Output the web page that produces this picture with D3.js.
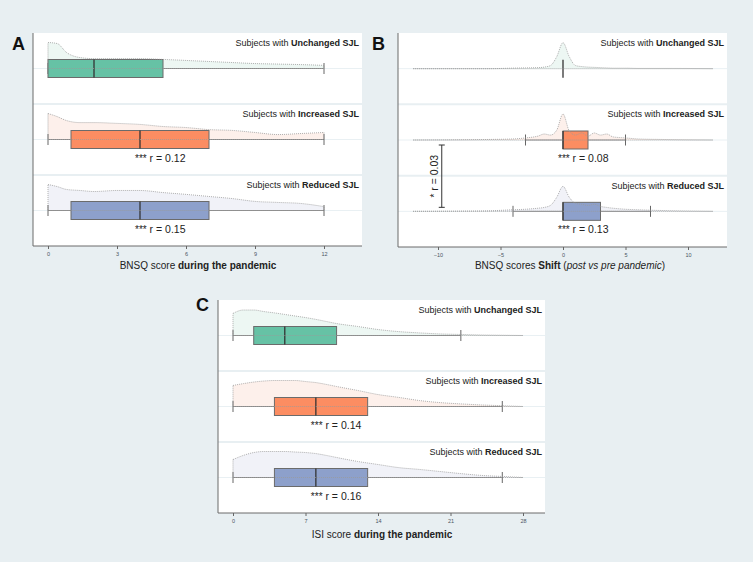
<!DOCTYPE html>
<html>
<head>
<meta charset="utf-8">
<script src="https://cdn.jsdelivr.net/npm/d3@7"></script>
<style>
  body { margin: 0; background: #e8eff2; }
  svg { display: block; font-family: "Liberation Sans", Arial, sans-serif; }
  .tick text { font-size: 5.5px; fill: #4a5562; }
  .tick line { stroke: #666; }
</style>
</head>
<body>
<div id="chart"></div>
<script>
// groups, top to bottom in every panel
var groups = ['Unchanged', 'Increased', 'Reduced'];

// box stats per group: [min, q1, median, q3, max]
var boxA = [[0, 0, 2, 5, 12], [0, 1, 4, 7, 12], [0, 1, 4, 7, 12]];
var boxB = [[0, 0, 0, 0, 0], [-3, 0, 0, 2, 5], [-4, 0, 0, 3, 7]];
var boxC = [[0, 2, 5, 10, 22], [0, 4, 8, 13, 26], [0, 4, 8, 13, 26]];

// effect sizes printed under the boxes
var rA = ['', '0.12', '0.15'];
var rB = ['', '0.08', '0.13'];
var rC = ['', '0.14', '0.16'];
var rBetweenB = '0.03';

var ticksA = [0, 3, 6, 9, 12];
var ticksB = [-10, -5, 0, 5, 10];
var ticksC = [0, 7, 14, 21, 28];

// density curves (relative, peak = 100)
var densAx = [0, 0.4, 0.8, 1.4, 2, 3, 4, 5, 6, 7, 8, 9, 10, 11, 12];
var densA = [
    [100, 96, 62, 42, 38, 38, 38, 35, 31, 27, 23, 19, 17, 15, 12],
    [100, 88, 73, 65, 65, 62, 58, 50, 46, 38, 35, 27, 19, 23, 27],
    [100, 92, 81, 77, 73, 77, 77, 69, 62, 54, 46, 35, 31, 27, 15]
];

var densBx = [-12, -8, -6, -4, -3, -2, -1.5, -1, -0.5, 0, 0.5, 1, 1.5, 2, 2.5, 3, 3.5, 4, 5, 6, 8, 12];
var densB = [
    [0, 0, 0, 2, 3, 4, 6, 12, 46, 100, 46, 12, 8, 6, 5, 4, 3, 2, 2, 1, 1, 0],
    [0, 1, 2, 4, 8, 15, 23, 19, 38, 100, 35, 19, 27, 15, 27, 19, 23, 12, 8, 4, 2, 0],
    [0, 1, 2, 6, 8, 12, 15, 23, 54, 96, 54, 31, 27, 23, 27, 19, 15, 12, 8, 6, 3, 0]
];

var densCx = [0, 1, 2, 3, 4, 5, 6, 7, 8, 9, 10, 12, 14, 16, 18, 20, 22, 24, 26, 28];
var densC = [
    [85, 98, 98, 92, 87, 81, 75, 69, 62, 54, 46, 35, 23, 15, 10, 6, 4, 2, 1, 0],
    [81, 88, 94, 98, 100, 100, 100, 96, 92, 85, 77, 62, 46, 35, 23, 15, 10, 6, 3, 0],
    [69, 85, 96, 100, 100, 100, 98, 96, 92, 85, 77, 62, 50, 38, 31, 23, 15, 8, 4, 0]
];

var boxColors = ['#66c2a5', '#fc8d62', '#8da0cb'];
var densColors = ['#edf7f3', '#fdf0eb', '#f1f2f8'];
var bg = '#e8eff2';

var svg = d3.select('#chart').append('svg')
    .attr('width', 753)
    .attr('height', 562);

///////////////////////////////////////////////////////////////
// panels
///////////////////////////////////////////////////////////////

var panels = [
    { letter: 'A', lx: 12, ly: 50, left: 33, right: 362, top: 33, bottom: 246,
      domain: [0, 12], range: [48, 324], ticks: ticksA, box: boxA, r: rA,
      dx: densAx, dens: densA, labelDy: 13,
      title: [['BNSQ score ', 'normal'], ['during the pandemic', 'bold']], tx: 198, ty: 269 },
    { letter: 'B', lx: 372, ly: 50, left: 398, right: 727, top: 33, bottom: 247,
      domain: [-12, 12], range: [413, 713], ticks: ticksB, box: boxB, r: rB,
      dx: densBx, dens: densB, labelDy: 13,
      title: [['BNSQ scores ', 'normal'], ['Shift', 'bold'], [' (', 'normal'], ['post vs pre pandemic', 'italic'], [')', 'normal']], tx: 570, ty: 269 },
    { letter: 'C', lx: 196, ly: 311, left: 218, right: 545, top: 300, bottom: 513,
      domain: [0, 28], range: [233, 523], ticks: ticksC, box: boxC, r: rC,
      dx: densCx, dens: densC, labelDy: 12.5,
      title: [['ISI score ', 'normal'], ['during the pandemic', 'bold']], tx: 382, ty: 538 }
];

panels.forEach(drawPanel);

function drawPanel(p) {
    var x = d3.scaleLinear().domain(p.domain).range(p.range);
    var y = d3.scaleBand().domain(groups).range([p.top, p.bottom]);
    var h = d3.scaleLinear().domain([0, 100]).range([0, 26]);
    var g = svg.append('g');

    g.append('rect')
        .attr('x', p.left)
        .attr('y', p.top)
        .attr('width', p.right - p.left)
        .attr('height', p.bottom - p.top)
        .attr('fill', '#fff');

    groups.forEach(function (grp, i) {
        var cy = y(grp) + y.bandwidth() / 2;
        var b = p.box[i];

        // separator between sub plots
        if (i > 0) {
            g.append('line')
                .attr('x1', p.left).attr('x2', p.right)
                .attr('y1', y(grp)).attr('y2', y(grp))
                .attr('stroke', bg).attr('stroke-width', 2);
        }

        // faint grid line
        g.append('line')
            .attr('x1', p.left).attr('x2', p.right)
            .attr('y1', cy).attr('y2', cy)
            .attr('stroke', '#e9f0f3');

        var area = d3.area()
            .x(function (d, j) { return x(p.dx[j]); })
            .y0(cy)
            .y1(function (d) { return cy - h(d); })
            .curve(d3.curveMonotoneX);

        g.append('path')
            .datum(p.dens[i])
            .attr('d', area)
            .attr('fill', densColors[i]);

        // whiskers
        if (b[0] !== b[4]) {
            g.append('line')
                .attr('x1', x(b[0])).attr('x2', x(b[4]))
                .attr('y1', cy).attr('y2', cy)
                .attr('stroke', '#8a8a8a');
            [b[0], b[4]].forEach(function (v) {
                g.append('line')
                    .attr('x1', x(v)).attr('x2', x(v))
                    .attr('y1', cy - 5.5).attr('y2', cy + 5.5)
                    .attr('stroke', '#666');
            });
        }

        // box
        if (b[3] > b[1]) {
            g.append('rect')
                .attr('x', x(b[1]))
                .attr('y', cy - 9)
                .attr('width', x(b[3]) - x(b[1]))
                .attr('height', 18)
                .attr('fill', boxColors[i])
                .attr('stroke', '#6b6b6b');
        }
        g.append('line')
            .attr('x1', x(b[2])).attr('x2', x(b[2]))
            .attr('y1', cy - 9).attr('y2', cy + 9)
            .attr('stroke', '#333')
            .attr('stroke-width', 1.3);

        // density outline, dotted, on top
        g.append('path')
            .datum(p.dens[i])
            .attr('d', area)
            .attr('fill', 'none')
            .attr('stroke', '#9a9a9a')
            .attr('stroke-width', 0.8)
            .attr('stroke-dasharray', '1,1');

        var lab = g.append('text')
            .attr('x', p.right - 3)
            .attr('y', y(grp) + p.labelDy)
            .attr('text-anchor', 'end')
            .attr('font-size', '9px')
            .attr('fill', '#222');
        lab.append('tspan').text('Subjects with ');
        lab.append('tspan').attr('font-weight', 'bold').text(grp + ' SJL');

        if (p.r[i]) {
            var rt = g.append('text')
                .attr('x', x(b[2]) - 5)
                .attr('y', cy + 22)
                .attr('fill', '#222');
            rt.append('tspan').attr('font-size', '10px').text('***');
            rt.append('tspan').attr('font-size', '10.5px').text(' r = ' + p.r[i]);
        }
    });

    // axes
    g.append('line')
        .attr('x1', p.left).attr('x2', p.left)
        .attr('y1', p.top).attr('y2', p.bottom)
        .attr('stroke', '#6b6b6b');
    g.append('line')
        .attr('x1', p.left).attr('x2', p.right)
        .attr('y1', p.bottom).attr('y2', p.bottom)
        .attr('stroke', '#6b6b6b');

    var xAxis = d3.axisBottom(x)
        .tickValues(p.ticks)
        .tickSize(3)
        .tickFormat(d3.format('d'));
    var ax = g.append('g')
        .attr('transform', 'translate(0,' + p.bottom + ')')
        .call(xAxis);
    ax.select('.domain').remove();

    var title = g.append('text')
        .attr('x', p.tx)
        .attr('y', p.ty)
        .attr('text-anchor', 'middle')
        .attr('font-size', '10px')
        .attr('fill', '#222');
    p.title.forEach(function (t) {
        var s = title.append('tspan').text(t[0]);
        if (t[1] === 'bold') s.attr('font-weight', 'bold');
        if (t[1] === 'italic') s.attr('font-style', 'italic');
    });

    svg.append('text')
        .attr('x', p.lx)
        .attr('y', p.ly)
        .attr('font-size', '18px')
        .attr('font-weight', 'bold')
        .attr('fill', '#111')
        .text(p.letter);

    // bracket between increased and reduced in panel B
    if (p.letter === 'B') {
        var y1 = y('Increased') + y.bandwidth() / 2 + 5,
            y2 = y('Reduced') + y.bandwidth() / 2 - 4,
            bx = x(-9.7);
        g.append('line').attr('x1', bx).attr('x2', bx).attr('y1', y1).attr('y2', y2).attr('stroke', '#333');
        [y1, y2].forEach(function (v) {
            g.append('line').attr('x1', bx - 3).attr('x2', bx + 3).attr('y1', v).attr('y2', v).attr('stroke', '#333');
        });
        var bt = g.append('text')
            .attr('transform', 'translate(' + (bx - 4) + ',' + ((y1 + y2) / 2) + ') rotate(-90)')
            .attr('text-anchor', 'middle')
            .attr('fill', '#222');
        bt.append('tspan').attr('font-size', '10px').text('*');
        bt.append('tspan').attr('font-size', '10.5px').text(' r = ' + rBetweenB);
    }
}
</script>
</body>
</html>
